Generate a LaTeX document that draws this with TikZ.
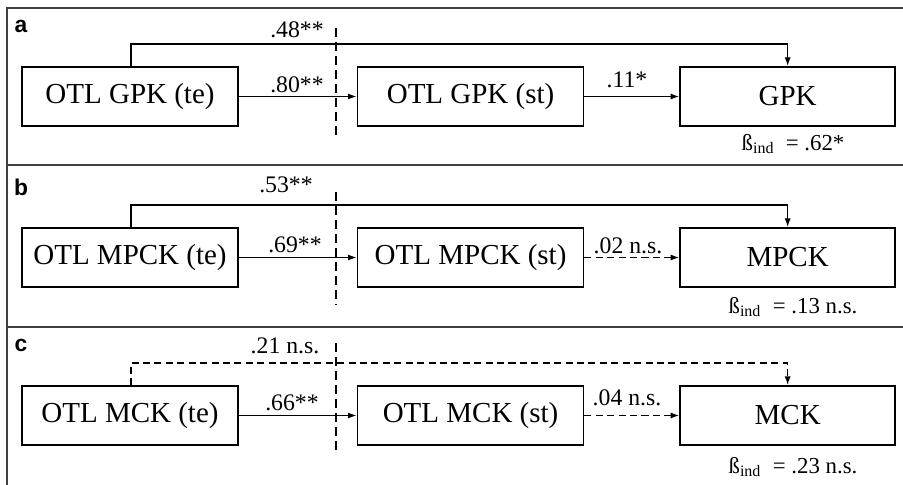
\documentclass[tikz,border=0pt]{standalone}
\usepackage{fontspec}
\setmainfont{Liberation Serif}
\newfontfamily\panelfont{Liberation Sans}
\usetikzlibrary{arrows.meta, positioning}

\tikzset{
  varbox/.style={draw, line width=0.9pt, minimum width=4.32cm, minimum height=1.18cm,
                 inner sep=0pt, font=\fontsize{16.5}{18}\selectfont},
  coef/.style={font=\fontsize{13.5}{16}\selectfont, inner sep=0pt, anchor=base},
  indeff/.style={font=\fontsize{13}{15}\selectfont, inner sep=0pt, anchor=base},
  link/.style={line width=0.9pt, -{Latex[length=5pt,width=3.5pt]}},
  nslink/.style={link, dash pattern=on 4pt off 2.5pt},
  divider/.style={line width=0.9pt, dash pattern=on 5pt off 3pt},
  frameline/.style={line width=1pt, black!75},
  panel/.style={font=\panelfont\bfseries\fontsize{13}{15}\selectfont, inner sep=0pt}
}

\begin{document}
\begin{tikzpicture}
  \useasboundingbox (0,0) rectangle (18.06,-9.70);
  \clip (0,0) rectangle (18.06,-9.70);

  % frame and panel separators
  \draw[frameline] (18.4,-0.16) -| (0.14,-9.9);
  \draw[frameline] (0.14,-3.30) -- (18.4,-3.30);
  \draw[frameline] (0.14,-6.54) -- (18.4,-6.54);

  % panel a
  \node[panel] (lblA) at (0.42,-0.52) {a};
  \node[varbox] (gpkte) at (2.60,-1.93) {OTL GPK (te)};
  \node[varbox, minimum width=4.52cm, right=2.36cm of gpkte] (gpkst) {OTL GPK (st)};
  \node[varbox, minimum width=4.30cm, right=1.90cm of gpkst] (gpk) {GPK};
  \coordinate (cutAtop) at (6.72,-0.56);
  \coordinate (cutAbot) at (6.72,-2.76);
  \draw[divider] (cutAtop) -- (cutAbot);
  \draw[link] ([xshift=2.2cm]gpkte.north west) -- ++(0,0.45) -| (gpk.north);
  \draw[link] (gpkte) -- (gpkst);
  \draw[link] (gpkst) -- (gpk);
  \node[coef] (cA1) at (5.94,-0.76) {.48**};
  \node[coef] (cA2) at (5.94,-1.84) {.80**};
  \node[coef] (cA3) at (12.54,-1.76) {.11*};
  \node[indeff] (indA) at (15.86,-3.00) {ß\textsubscript{ind}\ \ = .62*};

  % panel b
  \node[panel] (lblB) at (0.42,-3.74) {b};
  \node[varbox] (mpckte) at (2.60,-5.15) {OTL MPCK (te)};
  \node[varbox, minimum width=4.52cm, right=2.36cm of mpckte] (mpckst) {OTL MPCK (st)};
  \node[varbox, minimum width=4.30cm, right=1.90cm of mpckst] (mpck) {MPCK};
  \coordinate (cutBtop) at (6.72,-3.84);
  \coordinate (cutBbot) at (6.72,-6.10);
  \draw[divider] (cutBtop) -- (cutBbot);
  \draw[link] ([xshift=2.2cm]mpckte.north west) -- ++(0,0.45) -| (mpck.north);
  \draw[link] (mpckte) -- (mpckst);
  \draw[nslink] (mpckst) -- (mpck);
  \node[coef] (cB1) at (5.72,-3.84) {.53**};
  \node[coef] (cB2) at (5.90,-5.04) {.69**};
  \node[coef] (cB3) at (12.56,-5.06) {.02 n.s.};
  \node[indeff] (indB) at (15.86,-6.26) {ß\textsubscript{ind}\ \ = .13 n.s.};

  % panel c
  \node[panel] (lblC) at (0.42,-6.90) {c};
  \node[varbox] (mckte) at (2.60,-8.31) {OTL MCK (te)};
  \node[varbox, minimum width=4.52cm, right=2.36cm of mckte] (mckst) {OTL MCK (st)};
  \node[varbox, minimum width=4.30cm, right=1.90cm of mckst] (mck) {MCK};
  \coordinate (cutCtop) at (6.72,-6.86);
  \coordinate (cutCbot) at (6.72,-9.10);
  \draw[divider] (cutCtop) -- (cutCbot);
  \draw[nslink] ([xshift=2.2cm]mckte.north west) -- ++(0,0.45) -| (mck.north);
  \draw[link] (mckte) -- (mckst);
  \draw[nslink] (mckst) -- (mck);
  \node[coef] (cC1) at (5.70,-7.06) {.21 n.s.};
  \node[coef] (cC2) at (5.84,-8.20) {.66**};
  \node[coef] (cC3) at (12.54,-8.10) {.04 n.s.};
  \node[indeff] (indC) at (15.86,-9.46) {ß\textsubscript{ind}\ \ = .23 n.s.};
\end{tikzpicture}
\end{document}
